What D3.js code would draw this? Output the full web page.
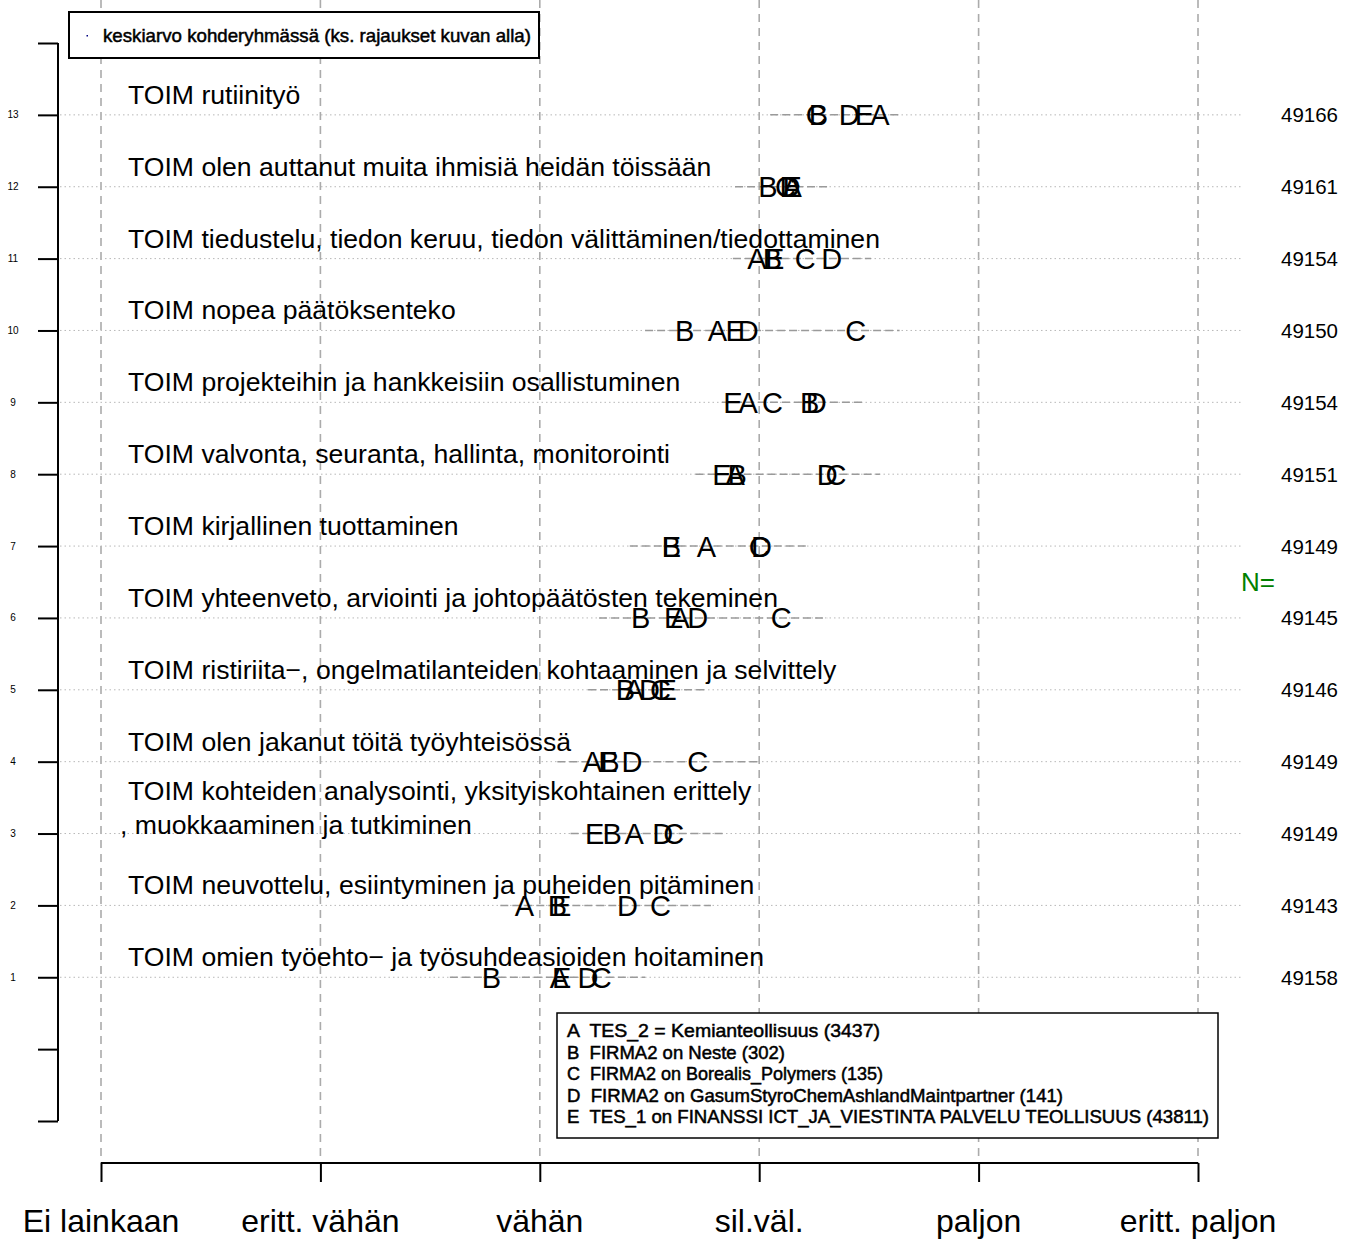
<!DOCTYPE html>
<html>
<head>
<meta charset="utf-8">
<script src="https://cdn.jsdelivr.net/npm/d3@7"></script>
<style>
  html, body { margin: 0; padding: 0; background: #fff; }
  svg { display: block; font-family: "Liberation Sans", Arial, sans-serif; }
</style>
</head>
<body>
<svg id="chart" width="1354" height="1239"></svg>
<script>
// ---------- DATA (rows 1..13, bottom to top) ----------
const rowIds = [1, 2, 3, 4, 5, 6, 7, 8, 9, 10, 11, 12, 13];
const itemLabels = [
  "TOIM omien työehto− ja työsuhdeasioiden hoitaminen",
  "TOIM neuvottelu, esiintyminen ja puheiden pitäminen",
  "TOIM kohteiden analysointi, yksityiskohtainen erittely\n, muokkaaminen ja tutkiminen",
  "TOIM olen jakanut töitä työyhteisössä",
  "TOIM ristiriita−, ongelmatilanteiden kohtaaminen ja selvittely",
  "TOIM yhteenveto, arviointi ja johtopäätösten tekeminen",
  "TOIM kirjallinen tuottaminen",
  "TOIM valvonta, seuranta, hallinta, monitorointi",
  "TOIM projekteihin ja hankkeisiin osallistuminen",
  "TOIM nopea päätöksenteko",
  "TOIM tiedustelu, tiedon keruu, tiedon välittäminen/tiedottaminen",
  "TOIM olen auttanut muita ihmisiä heidän töissään",
  "TOIM rutiinityö"
];
const nValues = [49158, 49143, 49149, 49149, 49146, 49145, 49149, 49151, 49154, 49150, 49154, 49161, 49166];

const seriesNames = ["A", "B", "C", "D", "E"];
const seriesA = [3.09, 2.93, 3.43, 3.24, 3.43, 3.64, 3.76, 3.89, 3.95, 3.81, 3.99, 4.15, 4.55];
const seriesB = [2.78, 3.08, 3.33, 3.32, 3.39, 3.46, 3.60, 3.90, 4.23, 3.66, 4.06, 4.04, 4.27];
const seriesC = [3.28, 3.55, 3.61, 3.72, 3.55, 4.10, 4.00, 4.35, 4.06, 4.44, 4.21, 4.12, 4.26];
const seriesD = [3.22, 3.40, 3.56, 3.42, 3.50, 3.72, 4.01, 4.31, 4.26, 3.95, 4.33, 4.14, 4.41];
const seriesE = [3.10, 3.10, 3.25, 3.31, 3.58, 3.61, 3.60, 3.83, 3.88, 3.89, 4.07, 4.15, 4.48];

const rangeLow  = [2.59, 2.82, 3.14, 3.08, 3.22, 3.27, 3.41, 3.71, 3.83, 3.48, 3.88, 3.89, 4.05];
const rangeHigh = [3.48, 3.78, 3.85, 4.00, 3.75, 4.31, 4.22, 4.55, 4.48, 4.64, 4.51, 4.31, 4.64];

const xTickValues = [1, 2, 3, 4, 5, 6];
const xTickLabels = ["Ei lainkaan", "eritt. vähän", "vähän", "sil.väl.", "paljon", "eritt. paljon"];
const yTickValues = [-1, 0, 1, 2, 3, 4, 5, 6, 7, 8, 9, 10, 11, 12, 13, 14];
const yTickLabelValues = [1, 2, 3, 4, 5, 6, 7, 8, 9, 10, 11, 12, 13];

const topLegendText = "keskiarvo kohderyhmässä (ks. rajaukset kuvan alla)";
const legendEntries = [
  "A  TES_2 = Kemianteollisuus (3437)",
  "B  FIRMA2 on Neste (302)",
  "C  FIRMA2 on Borealis_Polymers (135)",
  "D  FIRMA2 on GasumStyroChemAshlandMaintpartner (141)",
  "E  TES_1 on FINANSSI ICT_JA_VIESTINTA PALVELU TEOLLISUUS (43811)"
];
const nTitle = "N=";

// ---------- SCALES ----------
const svg = d3.select("#chart");
const x = d3.scaleLinear().domain([1, 6]).range([101, 1198]);
const y = d3.scaleLinear().domain([-1, 14]).range([1121, 43]);

const series = [seriesA, seriesB, seriesC, seriesD, seriesE];

// ---------- GRID ----------
svg.append("g").selectAll("line").data(xTickValues).join("line")
  .attr("x1", d => x(d)).attr("x2", d => x(d))
  .attr("y1", 0).attr("y2", 1163)
  .attr("stroke", "#ababab").attr("stroke-width", 1.6)
  .attr("stroke-dasharray", "8,6");

svg.append("g").selectAll("line").data(rowIds).join("line")
  .attr("x1", 60).attr("x2", 1242)
  .attr("y1", d => y(d)).attr("y2", d => y(d))
  .attr("stroke", "#b8b8b8").attr("stroke-width", 1)
  .attr("stroke-dasharray", "1.5,3");

svg.append("g").selectAll("line").data(rowIds).join("line")
  .attr("x1", (d, i) => x(rangeLow[i])).attr("x2", (d, i) => x(rangeHigh[i]))
  .attr("y1", d => y(d)).attr("y2", d => y(d))
  .attr("stroke", "#9a9a9a").attr("stroke-width", 1.5)
  .attr("stroke-dasharray", "8,4");

// ---------- AXES ----------
const xAxis = d3.axisBottom(x).tickValues(xTickValues).tickSize(19).tickFormat("");
const gx = svg.append("g").attr("transform", "translate(0,1163)").call(xAxis);
gx.select(".domain").attr("d", `M${x(1)},0H${x(6)}`).attr("stroke", "#000").attr("stroke-width", 2);
gx.selectAll(".tick line").attr("stroke", "#000").attr("stroke-width", 2);

svg.append("g").selectAll("text").data(xTickValues).join("text")
  .attr("x", d => x(d)).attr("y", 1232)
  .attr("text-anchor", "middle")
  .attr("font-size", 32).attr("fill", "#000")
  .text((d, i) => xTickLabels[i]);

const yAxis = d3.axisLeft(y).tickValues(yTickValues).tickSize(20).tickFormat("");
const gy = svg.append("g").attr("transform", "translate(58,0)").call(yAxis);
gy.select(".domain").attr("d", `M0,${y(14)}V${y(-1)}`).attr("stroke", "#000").attr("stroke-width", 2);
gy.selectAll(".tick line").attr("stroke", "#000").attr("stroke-width", 2);

svg.append("g").selectAll("text").data(yTickLabelValues).join("text")
  .attr("x", 13).attr("y", d => y(d) + 3.5)
  .attr("text-anchor", "middle")
  .attr("font-size", 10).attr("fill", "#000")
  .text(d => d);

// ---------- ROW LABELS ----------
const labelG = svg.append("g");
rowIds.forEach((r, i) => {
  const lines = itemLabels[i].split("\n");
  lines.forEach((ln, j) => {
    const base = lines.length === 1 ? y(r) - 11 : y(r) - 34 * (lines.length - 1 - j);
    labelG.append("text")
      .attr("x", ln.startsWith(",") ? 120 : 128)
      .attr("y", base)
      .attr("font-size", 26.6).attr("fill", "#000")
      .text(ln);
  });
});

// ---------- LETTER MARKERS ----------
const markG = svg.append("g");
series.forEach((vals, s) => {
  markG.selectAll(null).data(rowIds).join("text")
    .attr("x", (d, i) => x(vals[i]))
    .attr("y", d => y(d) + 10.5)
    .attr("text-anchor", "middle")
    .attr("font-size", 29).attr("fill", "#000")
    .text(seriesNames[s]);
});

// ---------- N VALUES ----------
svg.append("g").selectAll("text").data(rowIds).join("text")
  .attr("x", 1338).attr("y", d => y(d) + 7.5)
  .attr("text-anchor", "end")
  .attr("font-size", 20.5).attr("fill", "#000")
  .text((d, i) => nValues[i]);

svg.append("text")
  .attr("x", 1241).attr("y", 591)
  .attr("font-size", 26).attr("fill", "#008000")
  .text(nTitle);

// ---------- TOP LEGEND ----------
svg.append("rect")
  .attr("x", 69).attr("y", 12).attr("width", 470).attr("height", 46)
  .attr("fill", "#fff").attr("stroke", "#000").attr("stroke-width", 2);
svg.append("rect")
  .attr("x", 86.5).attr("y", 35).attr("width", 1.5).attr("height", 1.5)
  .attr("fill", "#000080");
svg.append("text")
  .attr("x", 103).attr("y", 42)
  .attr("font-size", 19).attr("fill", "#000")
  .attr("stroke", "#000").attr("stroke-width", 0.5)
  .attr("textLength", 428).attr("lengthAdjust", "spacingAndGlyphs")
  .text(topLegendText);

// ---------- BOTTOM LEGEND ----------
svg.append("rect")
  .attr("x", 557).attr("y", 1013).attr("width", 661).attr("height", 125)
  .attr("fill", "#fff").attr("stroke", "#000").attr("stroke-width", 1.5);
const legWidths = [313, 218, 316, 496, 642];
svg.append("g").selectAll("text").data(legendEntries).join("text")
  .attr("x", 567).attr("y", (d, i) => 1037 + i * 21.5)
  .attr("font-size", 18.5).attr("fill", "#000")
  .attr("stroke", "#000").attr("stroke-width", 0.5)
  .attr("textLength", (d, i) => legWidths[i]).attr("lengthAdjust", "spacingAndGlyphs")
  .attr("xml:space", "preserve")
  .text(d => d);
</script>
</body>
</html>
